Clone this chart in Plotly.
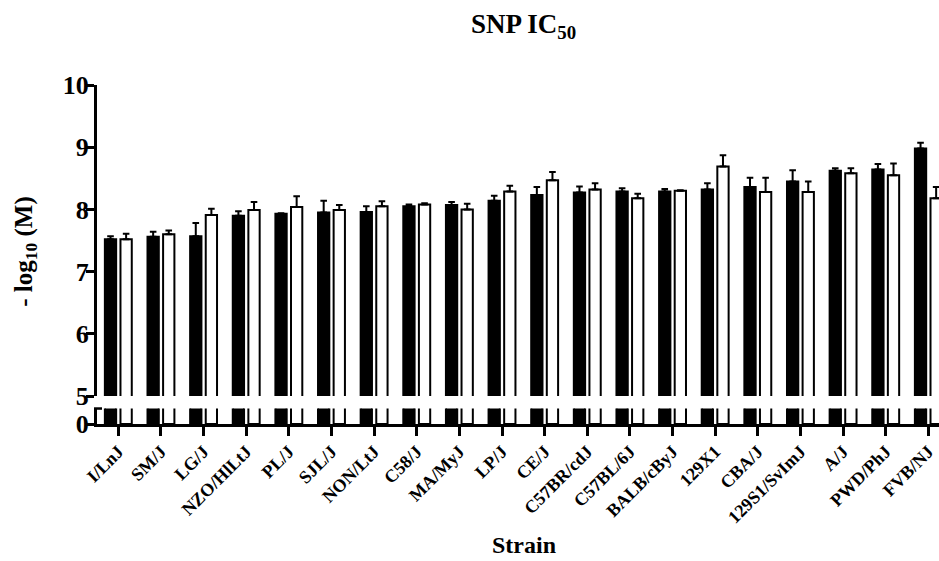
import plotly.graph_objects as go

strains = ["I/LnJ", "SM/J", "LG/J", "NZO/HlLtJ", "PL/J", "SJL/J", "NON/LtJ", "C58/J",
           "MA/MyJ", "LP/J", "CE/J", "C57BR/cdJ", "C57BL/6J", "BALB/cByJ", "129X1",
           "CBA/J", "129S1/SvImJ", "A/J", "PWD/PhJ", "FVB/NJ"]
black_vals = [7.52, 7.56, 7.57, 7.90, 7.93, 7.95, 7.96, 8.05, 8.07, 8.14,
              8.23, 8.27, 8.29, 8.29, 8.32, 8.36, 8.45, 8.62, 8.64, 8.98]
black_err = [0.05, 0.08, 0.21, 0.07, 0.01, 0.19, 0.09, 0.03, 0.05, 0.08,
             0.13, 0.10, 0.05, 0.04, 0.10, 0.15, 0.18, 0.04, 0.09, 0.09]
white_vals = [7.52, 7.60, 7.91, 7.99, 8.04, 7.99, 8.05, 8.08, 8.00, 8.29,
              8.47, 8.32, 8.18, 8.30, 8.69, 8.28, 8.28, 8.58, 8.55, 8.18]
white_err = [0.09, 0.06, 0.10, 0.13, 0.17, 0.08, 0.08, 0.02, 0.09, 0.09,
             0.13, 0.10, 0.07, 0.01, 0.18, 0.23, 0.17, 0.08, 0.19, 0.18]
upper_ticks = [5, 6, 7, 8, 9, 10]

SERIF = "Liberation Serif"
W, H = 939, 561
L, R, T, B = 97, 0, 85, 136.5
PW = W - L - R
PH = H - T - B
y5_px = 396.5
ytop_low_px = 409.0
up_dom0 = (H - B - y5_px) / PH
low_dom1 = (H - B - ytop_low_px) / PH

fig = go.Figure()
zeros = [0] * len(strains)
for vals, errs, fill in [(black_vals, black_err, "black"), (white_vals, white_err, "white")]:
    fig.add_trace(go.Bar(
        x=strains, y=vals, yaxis="y", xaxis="x",
        marker=dict(color=fill, line=dict(color="black", width=2)),
        error_y=dict(type="data", symmetric=False, array=errs, arrayminus=zeros,
                     color="black", thickness=2, width=3.3),
        showlegend=False, hoverinfo="skip"))
for vals, fill in [(black_vals, "black"), (white_vals, "white")]:
    fig.add_trace(go.Bar(
        x=strains, y=vals, yaxis="y2", xaxis="x",
        marker=dict(color=fill, line=dict(color="black", width=2)),
        showlegend=False, hoverinfo="skip"))

tickfont_y = dict(family=SERIF, size=26, color="black", weight="bold")
fig.update_layout(
    width=W, height=H,
    margin=dict(l=L, r=R, t=T, b=B, pad=0),
    paper_bgcolor="white", plot_bgcolor="white",
    barmode="group", bargap=0.268, bargroupgap=0.276,
    xaxis=dict(anchor="y2", range=[-0.5, 19.25], type="category",
               showline=True, linecolor="black", linewidth=3,
               ticks="outside", ticklen=9, tickwidth=2.5, tickcolor="black",
               tickangle=-45, showgrid=False, zeroline=False, ticklabelstandoff=-2,
               tickfont=dict(family=SERIF, size=18, color="black", weight="bold")),
    yaxis=dict(domain=[up_dom0, 1], range=[5, 10], tickvals=upper_ticks,
               showline=True, linecolor="black", linewidth=3,
               ticks="outside", ticklen=8, tickwidth=2.5, tickcolor="black",
               showgrid=False, zeroline=False, tickfont=tickfont_y, ticklabelstandoff=-8),
    yaxis2=dict(domain=[0, low_dom1], range=[0, 1], tickvals=[0],
                showline=True, linecolor="black", linewidth=3,
                ticks="outside", ticklen=8, tickwidth=2.5, tickcolor="black",
                showgrid=False, zeroline=False, tickfont=tickfont_y, ticklabelstandoff=-8),
    shapes=[dict(type="line", xref="paper", yref="paper",
                 x0=-3 / PW, x1=5 / PW, y0=low_dom1, y1=low_dom1,
                 line=dict(color="black", width=2.5))],
    annotations=[
        dict(text="SNP IC<sub>50</sub>", xref="paper", yref="paper",
             x=(523 - L) / PW, y=(H - B - 26) / PH, xanchor="center", yanchor="middle",
             showarrow=False, font=dict(family=SERIF, size=27, color="black", weight="bold")),
        dict(text="Strain", xref="paper", yref="paper",
             x=(524 - L) / PW, y=(H - B - 546) / PH, xanchor="center", yanchor="middle",
             showarrow=False, font=dict(family=SERIF, size=24, color="black", weight="bold")),
        dict(text="- log<sub>10</sub> (M)", xref="paper", yref="paper",
             x=(26 - L) / PW, y=(H - B - 252) / PH, xanchor="center", yanchor="middle",
             textangle=-90, showarrow=False,
             font=dict(family=SERIF, size=25, color="black", weight="bold")),
    ],
)

fig.write_html("out.html")
